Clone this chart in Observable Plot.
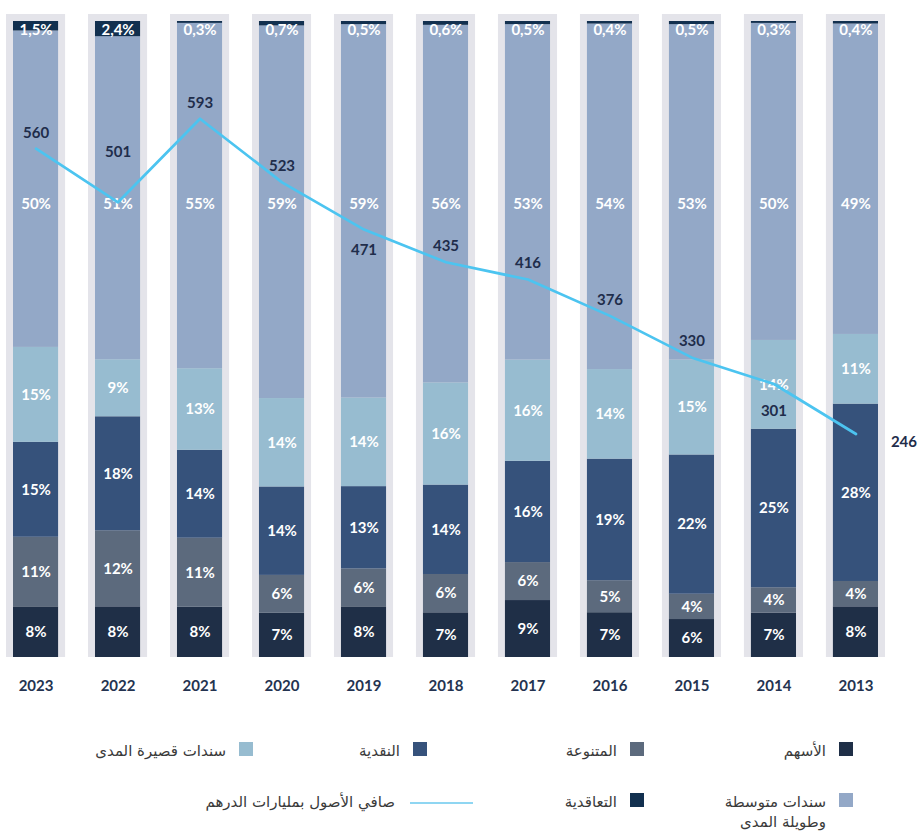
<!DOCTYPE html>
<html><head><meta charset="utf-8">
<script src="https://cdn.jsdelivr.net/npm/d3@7"></script>
<script src="https://cdn.jsdelivr.net/npm/@observablehq/plot@0.6"></script>
<style>
body{margin:0;background:#fff;}
#wrap{position:relative;width:918px;height:831px;overflow:hidden;}
#chart{position:absolute;left:0;top:0;}
.leg{position:absolute;display:flex;align-items:flex-start;font-family:"DejaVu Sans",sans-serif;font-size:15px;color:#3a3a3a;direction:rtl;}
.leg .sw{width:14px;height:14px;margin-left:13px;flex:none;margin-top:1px;}
.leg .ln{width:63px;height:2px;background:#8fd6f2;margin-left:15px;margin-top:10px;flex:none;}
.leg .tx{line-height:20px;text-align:right;}
</style></head>
<body><div id="wrap"><div id="chart"></div><div id="legend"></div></div>
<script>
const years = ["2023","2022","2021","2020","2019","2018","2017","2016","2015","2014","2013"];
const seriesNames = ["الأسهم","المتنوعة","النقدية","سندات قصيرة المدى","سندات متوسطة وطويلة المدى","التعاقدية"];
const seriesColors = ["#1f2f47","#5c6a7d","#36527b","#97bcd0","#93a8c7","#12304f"];
const stocks      = [8,8,8,7,8,7,9,7,6,7,8];
const diversified = [11,12,11,6,6,6,6,5,4,4,4];
const cash        = [15,18,14,14,13,14,16,19,22,25,28];
const shortBonds  = [15,9,13,14,14,16,16,14,15,14,11];
const midLongBonds= [50,51,55,59,59,56,53,54,53,50,49];
const contractual = [1.5,2.4,0.3,0.7,0.5,0.6,0.5,0.4,0.5,0.3,0.4];
const netAssets   = [560,501,593,523,471,435,416,376,330,301,246];
const netAssetsMax = 700; // secondary scale top
const lineLabel = "صافي الأصول بمليارات الدرهم";

const seriesValues = [stocks, diversified, cash, shortBonds, midLongBonds, contractual];
const rows = [];
years.forEach((y, i) => seriesNames.forEach((s, k) => rows.push({year: y, series: s, k, value: seriesValues[k][i]})));
const fmt = v => String(v).replace(".", ",") + "%";
const lineRows = years.map((y, i) => ({year: y, v: netAssets[i]}));

// label placement groups for the net-asset values (layout only)
const placement = {"2022": "high", "2019": "below", "2014": "low", "2013": "right"};
const group = d => placement[d.year] || "above";
const groupOffsets = {above: [0, -16], high: [0, -50], below: [0, 21], low: [0, 27], right: [48, 8]};

const H = 705, bottomY = 657, topY = 21;
const labelStyle = {fill: "white", fontWeight: "bold", fontSize: 15};
const numStyle = {fill: "#1f2d4b", fontWeight: "bold", fontSize: 15};
const chart = Plot.plot({
  width: 918, height: H,
  marginTop: topY, marginBottom: H - bottomY, marginLeft: 13, marginRight: 40,
  style: {fontFamily: "Lato, sans-serif", fontSize: "15px", background: "white"},
  x: {domain: years, paddingInner: 0.45, paddingOuter: 0, round: false, axis: null},
  y: {domain: [0, 1], axis: null},
  color: {domain: seriesNames, range: seriesColors},
  marks: [
    Plot.barY(years, {x: d => d, y1: 0, y2: 1, fill: "#e4e4ea", insetLeft: -7, insetRight: -7, insetTop: -7}),
    Plot.barY(rows, Plot.stackY({x: "year", y: "value", z: "series", fill: "series", offset: "normalize"})),
    Plot.text(rows, Plot.stackY({x: "year", y: "value", z: "series", offset: "normalize",
      text: d => d.k < 4 ? fmt(d.value) : "", ...labelStyle})),
    Plot.text(years, {x: d => d, text: (d, i) => fmt(midLongBonds[i]), frameAnchor: "top", lineAnchor: "middle", dy: 183, ...labelStyle}),
    Plot.text(years, {x: d => d, text: (d, i) => fmt(contractual[i]), frameAnchor: "top", lineAnchor: "middle", dy: 9, ...labelStyle}),
    Plot.line(lineRows, {x: "year", y: d => d.v / netAssetsMax, stroke: "#4cc4f0", strokeWidth: 2.7}),
    ...Object.entries(groupOffsets).map(([g, [dx, dy]]) =>
      Plot.text(lineRows, {filter: d => group(d) === g, x: "year", y: d => d.v / netAssetsMax,
        text: d => String(d.v), dx, dy, ...numStyle})),
    Plot.axisX({tickSize: 0, tickPadding: 23, fontSize: 15, fontWeight: "bold", color: "#243350", label: null})
  ]
});
document.getElementById("chart").append(chart);

// legend
const legendItems = [
  {k: 0, right: 65, top: 741},
  {k: 1, right: 274, top: 741},
  {k: 2, right: 491, top: 741},
  {k: 3, right: 665, top: 741},
  {k: 4, right: 65, top: 792, text: "سندات متوسطة<br>وطويلة المدى"},
  {k: 5, right: 274, top: 792},
  {line: true, right: 445, top: 792}
];
const leg = document.getElementById("legend");
legendItems.forEach(it => {
  const d = document.createElement("div");
  d.className = "leg";
  d.style.right = it.right + "px";
  d.style.top = it.top + "px";
  const sw = document.createElement("div");
  if (it.line) { sw.className = "ln"; }
  else { sw.className = "sw"; sw.style.background = seriesColors[it.k]; }
  const tx = document.createElement("div");
  tx.className = "tx";
  tx.innerHTML = it.line ? lineLabel : (it.text || seriesNames[it.k]);
  d.append(sw, tx);
  leg.append(d);
});
</script>
</body></html>
